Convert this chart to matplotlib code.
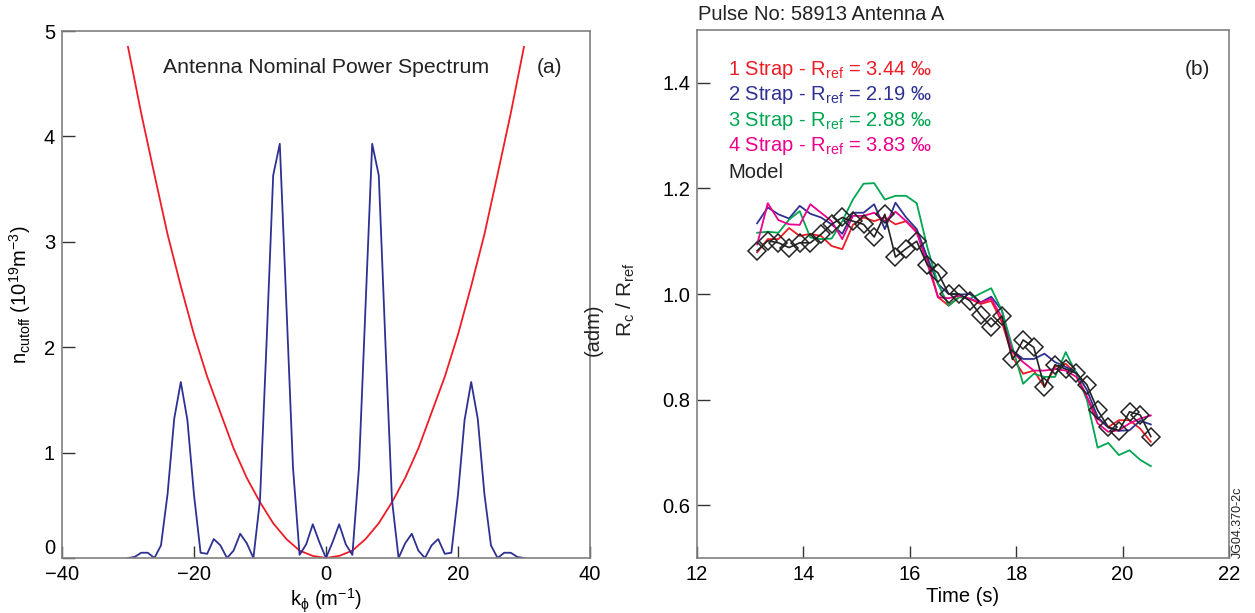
import matplotlib
matplotlib.use("Agg")
import matplotlib.pyplot as plt

plt.rcParams['font.family'] = ['Liberation Sans', 'DejaVu Sans']
plt.rcParams['mathtext.fontset'] = 'custom'
plt.rcParams['mathtext.rm'] = 'Liberation Sans'
plt.rcParams['mathtext.it'] = 'Liberation Sans'

# ---------------- panel (a) data ----------------
k_red = [-30, -28, -26, -24, -22, -20, -18, -16, -14, -12, -10, -8, -6, -4, -2, 0,
         2, 4, 6, 8, 10, 12, 14, 16, 18, 20, 22, 24, 26, 28, 30]
n_cutoff = [4.85, 4.22, 3.64, 3.07, 2.58, 2.12, 1.72, 1.38, 1.04, 0.76, 0.53, 0.33, 0.18, 0.07, 0.02, 0.0,
            0.02, 0.07, 0.18, 0.33, 0.53, 0.76, 1.04, 1.38, 1.72, 2.12, 2.58, 3.07, 3.64, 4.22, 4.85]

k_spec = list(range(-30, 31))
power = [0.0, 0.01, 0.05, 0.05, 0.0, 0.12, 0.61, 1.32, 1.67, 1.31, 0.6, 0.05, 0.04, 0.18, 0.12, 0.0,
         0.07, 0.23, 0.14, 0.0, 0.55, 2.05, 3.63, 3.93, 2.4, 0.86, 0.03, 0.13, 0.32, 0.15, 0.0,
         0.15, 0.32, 0.13, 0.03, 0.86, 2.4, 3.93, 3.63, 2.05, 0.55, 0.0, 0.14, 0.23, 0.07, 0.0,
         0.12, 0.18, 0.04, 0.05, 0.6, 1.31, 1.67, 1.32, 0.61, 0.12, 0.0, 0.05, 0.05, 0.01, 0.0]

# ---------------- panel (b) data ----------------
time = [13.13, 13.33, 13.53, 13.73, 13.93, 14.13, 14.33, 14.53, 14.73, 14.93,
        15.13, 15.33, 15.53, 15.73, 15.93, 16.13, 16.33, 16.53, 16.73, 16.93,
        17.13, 17.33, 17.53, 17.73, 17.93, 18.13, 18.33, 18.53, 18.73, 18.93,
        19.13, 19.33, 19.53, 19.73, 19.93, 20.13, 20.33, 20.53]

strap1 = [1.079, 1.104, 1.104, 1.125, 1.110, 1.114, 1.110, 1.091, 1.085, 1.131,
          1.145, 1.138, 1.145, 1.132, 1.138, 1.119, 1.066, 0.994, 0.978, 0.995,
          0.991, 0.981, 0.987, 0.947, 0.880, 0.849, 0.855, 0.824, 0.862, 0.868,
          0.849, 0.805, 0.764, 0.748, 0.761, 0.761, 0.745, 0.720]
strap2 = [1.134, 1.164, 1.151, 1.143, 1.167, 1.152, 1.145, 1.132, 1.114, 1.154,
          1.154, 1.170, 1.123, 1.173, 1.145, 1.123, 1.069, 1.019, 1.000, 0.999,
          1.000, 0.984, 0.995, 0.969, 0.893, 0.877, 0.877, 0.887, 0.871, 0.862,
          0.852, 0.818, 0.767, 0.747, 0.741, 0.742, 0.760, 0.753]
strap3 = [1.116, 1.118, 1.116, 1.141, 1.157, 1.107, 1.104, 1.105, 1.138, 1.179,
          1.209, 1.210, 1.179, 1.186, 1.186, 1.172, 1.088, 1.019, 0.978, 0.994,
          0.991, 1.001, 1.011, 0.969, 0.899, 0.830, 0.849, 0.843, 0.843, 0.890,
          0.849, 0.799, 0.709, 0.718, 0.695, 0.704, 0.686, 0.674]
strap4 = [1.094, 1.172, 1.140, 1.132, 1.131, 1.170, 1.154, 1.138, 1.104, 1.148,
          1.148, 1.154, 1.138, 1.156, 1.138, 1.116, 1.057, 0.994, 0.992, 0.997,
          0.991, 0.984, 0.991, 0.956, 0.890, 0.871, 0.855, 0.855, 0.858, 0.855,
          0.843, 0.805, 0.755, 0.739, 0.742, 0.755, 0.764, 0.770]
model = [1.082, 1.101, 1.097, 1.088, 1.097, 1.097, 1.113, 1.132, 1.145, 1.138,
         1.132, 1.108, 1.151, 1.070, 1.086, 1.100, 1.055, 1.040, 1.000, 1.000,
         0.987, 0.960, 0.938, 0.958, 0.876, 0.913, 0.899, 0.824, 0.866, 0.858,
         0.850, 0.828, 0.780, 0.748, 0.741, 0.777, 0.771, 0.730]

labels = ['1 Strap - R$_{\\rm ref}$ = 3.44 \u2030',
          '2 Strap - R$_{\\rm ref}$ = 2.19 \u2030',
          '3 Strap - R$_{\\rm ref}$ = 2.88 \u2030',
          '4 Strap - R$_{\\rm ref}$ = 3.83 \u2030',
          'Model']

RED = '#ee1c25'
BLUE = '#2e3192'
GREEN = '#00a651'
MAGENTA = '#ec008c'
SPINE = '#808080'

fig = plt.figure(figsize=(12.55, 6.13), dpi=100)
ax1 = fig.add_axes([0.0494, 0.0897, 0.4207, 0.8597])
ax2 = fig.add_axes([0.5554, 0.0897, 0.4239, 0.8613])

for ax in (ax1, ax2):
    for s in ax.spines.values():
        s.set_color(SPINE)
        s.set_linewidth(1.2)
    ax.tick_params(direction='in', length=9, width=1, color='#333333',
                   labelsize=14.5, pad=5, top=False, right=False)

# ---- panel (a)
ax1.plot(k_red, n_cutoff, color=RED, lw=1.3)
ax1.plot(k_spec, power, color=BLUE, lw=1.3)
ax1.set_xlim(-40, 40)
ax1.set_ylim(0, 5)
ax1.set_xticks([-40, -20, 0, 20, 40])
ax1.set_xticklabels(['\u221240', '\u221220', '0', '20', '40'])
ax1.set_yticks([0, 1, 2, 3, 4, 5])
ax1.yaxis.get_major_ticks()[0].label1.set_va('bottom')
ax1.set_xlabel('k$_\\phi$ (m$^{-1}$)', fontsize=14.5, labelpad=2)
ax1.set_ylabel('n$_{\\rm cutoff}$ (10$^{19}$m$^{-3}$)', fontsize=14.5, labelpad=8)
ax1.text(0.5, 0.93, 'Antenna Nominal Power Spectrum', transform=ax1.transAxes,
         fontsize=15.3, ha='center', va='center', color='#222222')
ax1.text(0.924, 0.93, '(a)', transform=ax1.transAxes, fontsize=15,
         ha='center', va='center', color='#222222')

# ---- panel (b)
ax2.plot(time, strap1, color=RED, lw=1.3)
ax2.plot(time, strap2, color=BLUE, lw=1.3)
ax2.plot(time, strap3, color=GREEN, lw=1.3)
ax2.plot(time, strap4, color=MAGENTA, lw=1.3)
ax2.plot(time, model, color='#222222', lw=1.2, marker='D', ms=9,
         mfc='none', mec='#222222', mew=1.1)
ax2.set_xlim(12, 22)
ax2.set_ylim(0.5, 1.5)
ax2.set_xticks([12, 14, 16, 18, 20, 22])
ax2.set_yticks([0.6, 0.8, 1.0, 1.2, 1.4])
ax2.set_yticklabels(['0.6', '0.8', '1.0', '1.2', '1.4'])
ax2.set_xlabel('Time (s)', fontsize=14.5, labelpad=2)

colors = [RED, BLUE, GREEN, MAGENTA, '#222222']
for i, (lab, c) in enumerate(zip(labels, colors)):
    ax2.text(0.058, 0.925 - i * 0.0485, lab, transform=ax2.transAxes,
             fontsize=14.5, color=c, ha='left', va='center')
ax2.text(0.94, 0.925, '(b)', transform=ax2.transAxes, fontsize=15,
         ha='center', va='center', color='#222222')

fig.text(698 / 1255, 1 - 14 / 613, 'Pulse No: 58913 Antenna A', fontsize=14.5,
         ha='left', va='center', color='#222222')
fig.text(626 / 1255, 1 - 300 / 613, 'R$_c$ / R$_{\\rm ref}$', fontsize=15,
         rotation=90, ha='center', va='center', color='#222222')
fig.text(593 / 1255, 1 - 330 / 613, '(adm)', fontsize=14.5,
         rotation=90, ha='center', va='center', color='#222222')
fig.text(1238 / 1255, 1 - 522 / 613, 'JG04.370-2c', fontsize=9,
         rotation=90, ha='center', va='center', color='#222222')

fig.savefig('out.png', dpi=100)
